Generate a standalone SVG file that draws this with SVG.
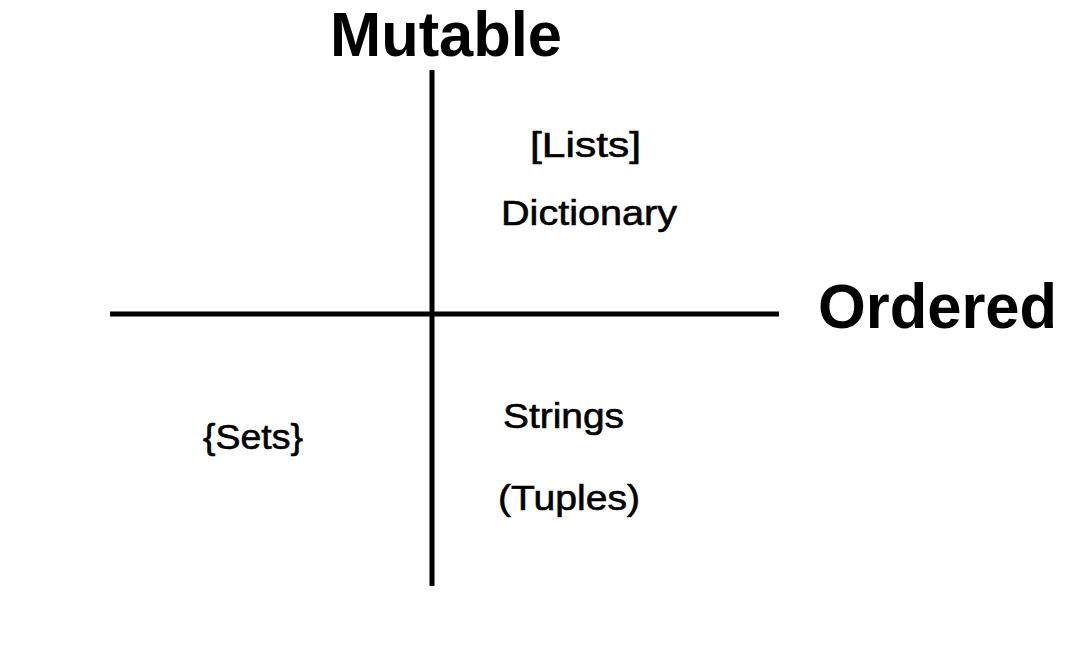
<svg xmlns="http://www.w3.org/2000/svg" width="1084" height="670" viewBox="0 0 1084 670">
<style>
.axis{stroke:#000;stroke-width:5;fill:none}
.big{font-family:"Liberation Sans",Arial,sans-serif;font-weight:bold;font-size:63px;fill:#000}
.lbl{font-family:"Liberation Sans",Arial,sans-serif;font-size:35px;fill:#000;stroke:#000;stroke-width:0.6}
</style>
<rect width="1084" height="670" fill="#fff"/>
<g id="connectors">
<line class="axis" x1="110" y1="314" x2="779" y2="314"/>
<line class="axis" x1="432" y1="70" x2="432" y2="586"/>
</g>
<g id="mutable"><text class="big" x="330" y="56" textLength="232" lengthAdjust="spacingAndGlyphs">Mutable</text></g>
<g id="ordered"><text class="big" x="818" y="328" textLength="239" lengthAdjust="spacingAndGlyphs">Ordered</text></g>
<g id="lists"><text class="lbl" x="530" y="157" textLength="111" lengthAdjust="spacingAndGlyphs">[Lists]</text></g>
<g id="dictionary"><text class="lbl" x="501" y="225" textLength="176" lengthAdjust="spacingAndGlyphs">Dictionary</text></g>
<g id="sets"><text class="lbl" x="203" y="449" textLength="100" lengthAdjust="spacingAndGlyphs">{Sets}</text></g>
<g id="strings"><text class="lbl" x="503" y="428" textLength="121" lengthAdjust="spacingAndGlyphs">Strings</text></g>
<g id="tuples"><text class="lbl" x="498" y="510" textLength="142" lengthAdjust="spacingAndGlyphs">(Tuples)</text></g>
</svg>
